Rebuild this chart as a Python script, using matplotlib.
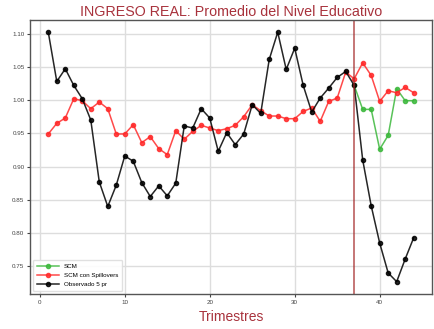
import matplotlib
matplotlib.use("Agg")
import matplotlib.pyplot as plt

# Trimestres y series
trimestres = list(range(1, 45))

observado = [1.102, 1.028, 1.047, 1.022, 1.002, 0.970, 0.877, 0.840, 0.872, 0.916,
             0.908, 0.876, 0.855, 0.871, 0.856, 0.875, 0.961, 0.958, 0.987, 0.973,
             0.923, 0.951, 0.933, 0.949, 0.993, 0.980, 1.061, 1.102, 1.046, 1.078,
             1.022, 0.982, 1.003, 1.018, 1.034, 1.043, 1.022, 0.910, 0.841, 0.785,
             0.740, 0.727, 0.761, 0.793]

scm_spill = [0.949, 0.965, 0.973, 1.002, 0.999, 0.987, 0.997, 0.987, 0.949, 0.949,
             0.963, 0.936, 0.945, 0.927, 0.918, 0.954, 0.941, 0.953, 0.962, 0.958,
             0.954, 0.957, 0.962, 0.975, 0.993, 0.984, 0.976, 0.976, 0.972, 0.972,
             0.983, 0.988, 0.968, 0.998, 1.003, 1.042, 1.032, 1.056, 1.037, 0.998,
             1.014, 1.011, 1.019, 1.011]

trimestres_scm = list(range(37, 45))
scm = [1.022, 0.986, 0.986, 0.926, 0.947, 1.017, 0.999, 0.999]

tratamiento = 37

plt.rcParams['font.family'] = ['Liberation Sans', 'DejaVu Sans']

fig, ax = plt.subplots(figsize=(4.35, 3.29), dpi=100)
fig.subplots_adjust(left=0.069, right=0.993, top=0.94, bottom=0.106)

ax.plot(trimestres_scm, scm, color='#3cb83c', marker='o', markersize=3,
        linewidth=1.1, alpha=0.85, label='SCM')
ax.plot(trimestres, scm_spill, color='#ff2a2a', marker='o', markersize=3,
        linewidth=1.1, alpha=0.85, label='SCM con Spillovers')
ax.plot(trimestres, observado, color='black', marker='o', markersize=3,
        linewidth=1.1, alpha=0.85, label='Observado 5 pr')
ax.axvline(tratamiento, color='#a52a2a', linewidth=1.2, alpha=0.75)

ax.set_title('INGRESO REAL: Promedio del Nivel Educativo', color='#a8323c',
             fontsize=10.3, pad=3)
ax.set_xlabel('Trimestres', color='#a8323c', fontsize=10, labelpad=4)
ax.set_xticks([0, 10, 20, 30, 40])
ax.tick_params(labelsize=4.5, colors='#444444', length=2, pad=2)
ax.grid(True, color='#dddddd', linewidth=1)
ax.set_axisbelow(True)
for s in ax.spines.values():
    s.set_color('#555555')
    s.set_linewidth(1)

ax.legend(loc='lower left', fontsize=4.5, frameon=True, framealpha=0.9,
          edgecolor='#dddddd', handlelength=3.5, borderpad=0.6, labelspacing=0.6)

fig.savefig('out.png', dpi=100)
